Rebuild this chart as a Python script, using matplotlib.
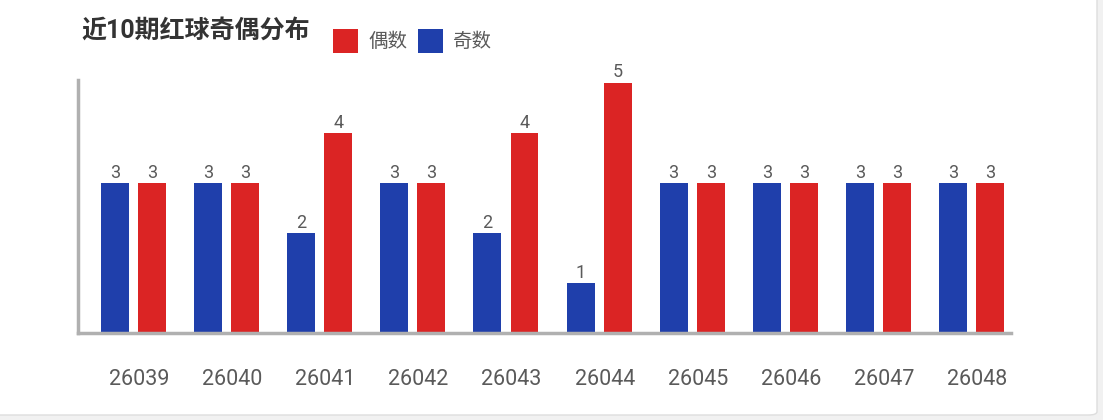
import matplotlib
matplotlib.use('Agg')
import matplotlib.pyplot as plt
import numpy as np
from matplotlib.patches import FancyBboxPatch, Rectangle

plt.rcParams['font.family'] = ['Roboto', 'Noto Sans CJK SC', 'DejaVu Sans']

issues = ['26039', '26040', '26041', '26042', '26043', '26044', '26045', '26046', '26047', '26048']
odd = [3, 3, 2, 3, 2, 1, 3, 3, 3, 3]    # 奇数
even = [3, 3, 4, 3, 4, 5, 3, 3, 3, 3]   # 偶数

red = '#db2424'
blue = '#1f3fab'
text_gray = '#5a5a5a'

fig = plt.figure(figsize=(11.03, 4.2), dpi=100)
fig.patch.set_facecolor('#f1f1f1')

# white card behind everything
card = FancyBboxPatch((-20 / 1103, 5 / 420), 1117 / 1103, 430 / 420,
                      boxstyle='round,pad=0,rounding_size=0.008',
                      transform=fig.transFigure, facecolor='white',
                      edgecolor='#dddddd', linewidth=1, zorder=-10)
fig.patches.append(card)

ax = fig.add_axes([78 / 1103, 87 / 420, 933 / 1103, 253 / 420])
ax.set_facecolor('none')

x = np.arange(len(issues))
w = 0.30
b1 = ax.bar(x - 0.199, odd, w, color=blue, zorder=2)
b2 = ax.bar(x + 0.199, even, w, color=red, zorder=2)

for bars, vals in [(b1, odd), (b2, even)]:
    for r, v in zip(bars, vals):
        ax.text(r.get_x() + r.get_width() / 2, v + 0.03, str(v), ha='center', va='bottom',
                fontsize=13, color=text_gray)

ax.set_xlim(-0.596, 9.424)
ax.set_ylim(0, 5.06)
ax.set_xticks(x + 0.06)
ax.set_xticklabels(issues, fontsize=15.5, color=text_gray)
ax.tick_params(axis='x', length=0, pad=26)
ax.set_yticks([])
for s in ['top', 'right']:
    ax.spines[s].set_visible(False)
for s in ['left', 'bottom']:
    ax.spines[s].set_color('#b0b0b0')
    ax.spines[s].set_linewidth(2.5)

fig.text(81 / 1103, 1 - 31 / 420, '近10期红球奇偶分布', fontsize=18, fontweight='bold',
         color='#333333', va='center', ha='left')

# legend
for x0, col, label in [(333, red, '偶数'), (418, blue, '奇数')]:
    fig.patches.append(Rectangle((x0 / 1103, 1 - 53 / 420), 25 / 1103, 24 / 420,
                                 transform=fig.transFigure, facecolor=col, edgecolor='none'))
    fig.text((x0 + 35) / 1103, 1 - 42 / 420, label, fontsize=14, color=text_gray,
             va='center', ha='left')

plt.savefig('out.png', dpi=100, facecolor=fig.get_facecolor())
